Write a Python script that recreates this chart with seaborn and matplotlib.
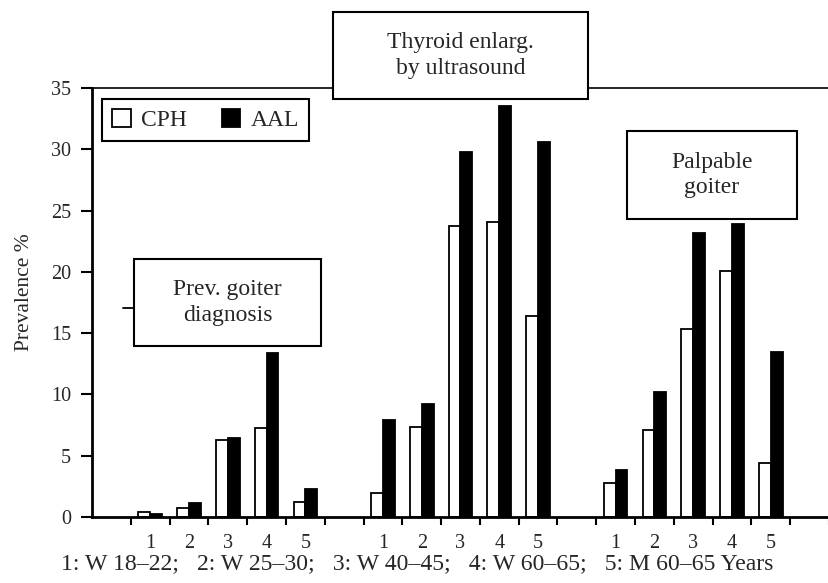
import matplotlib
matplotlib.use("Agg")
import matplotlib.pyplot as plt
from matplotlib.patches import Rectangle
from matplotlib.lines import Line2D
import seaborn as sns
import pandas as pd

# ---- data ----
groups = ["Prev. goiter\ndiagnosis", "Thyroid enlarg.\nby ultrasound", "Palpable\ngoiter"]
subgroups = ["1", "2", "3", "4", "5"]
cph = [0.4, 0.75, 6.3, 7.25, 1.2,
       1.95, 7.35, 23.75, 24.1, 16.4,
       2.8, 7.1, 15.3, 20.1, 4.4]
aal = [0.25, 1.15, 6.45, 13.4, 2.3,
       7.9, 9.2, 29.8, 33.5, 30.6,
       3.8, 10.2, 23.2, 23.9, 13.5]
series = ["CPH", "AAL"]
colors = ["white", "black"]
y_ticks = [0, 5, 10, 15, 20, 25, 30, 35]
footnote = "1: W 18\u201322;   2: W 25\u201330;   3: W 40\u201345;   4: W 60\u201365;   5: M 60\u201365 Years"

# slot layout: empty, 5 bars, empty, 5 bars, empty, 5 bars, empty
order = []
tick_text = []
rows = []
for gi, g in enumerate(groups):
    order.append(f"e{gi}")
    tick_text.append("")
    for si, s in enumerate(subgroups):
        name = f"g{gi}_{s}"
        order.append(name)
        tick_text.append(s)
        rows.append({"slot": name, "site": "CPH", "value": cph[gi * 5 + si]})
        rows.append({"slot": name, "site": "AAL", "value": aal[gi * 5 + si]})
order.append("e_end")
tick_text.append("")
df = pd.DataFrame(rows)

sns.set_style("ticks")
plt.rcParams["font.family"] = ["Liberation Serif", "DejaVu Serif"]

fig = plt.figure(figsize=(8.29, 5.83), dpi=100)
W, H = 829, 583
ax_left, ax_right, ax_bottom, ax_top = 92, 829, 517, 88
ax = fig.add_axes([ax_left / W, 1 - ax_bottom / H, (ax_right - ax_left) / W, (ax_bottom - ax_top) / H])

sns.barplot(data=df, x="slot", y="value", hue="site", order=order, hue_order=series,
            palette=colors, edgecolor="black", linewidth=1.3, width=0.61, ax=ax,
            errorbar=None, saturation=1)

n = len(order)
slot_px = 39.3
ax.set_xlim(-0.5, -0.5 + (ax_right - ax_left) / slot_px)
ax.set_ylim(0, 35)

ax.set_xticks([i + 0.5 for i in range(n)])
ax.set_xticklabels([])
ax.set_xticks(list(range(n)), minor=True)
ax.set_xticklabels(tick_text, minor=True, fontsize=14.5)
ax.tick_params(axis="x", which="major", direction="out", length=6, width=1.5, color="black")
ax.tick_params(axis="x", which="minor", length=0, pad=12)

ax.set_yticks(y_ticks)
ax.set_yticklabels([str(v) for v in y_ticks], fontsize=14.5)
ax.tick_params(axis="y", direction="out", length=8, width=1.5, color="black", pad=7)

ax.set_xlabel("")
ax.set_ylabel("Prevalence %", fontsize=15.5)
ax.yaxis.set_label_coords(-(92 - 34) / (ax_right - ax_left), (517 - 292) / (ax_bottom - ax_top))

for side in ["left", "bottom", "top"]:
    ax.spines[side].set_visible(True)
    ax.spines[side].set_color("black")
ax.spines["left"].set_linewidth(2.0)
ax.spines["bottom"].set_linewidth(2.0)
ax.spines["top"].set_linewidth(1.2)
ax.spines["right"].set_visible(False)

handles, labels = ax.get_legend_handles_labels()
leg = ax.legend(handles, labels, ncol=2, loc="upper left",
                bbox_to_anchor=(10 / (ax_right - ax_left), 1 - 11 / (ax_bottom - ax_top)),
                borderaxespad=0, fontsize=17, frameon=True, fancybox=False,
                handlelength=0.8, handleheight=0.8, handletextpad=0.45,
                columnspacing=1.45, borderpad=0.42, edgecolor="black")
leg.get_frame().set_linewidth(1.5)
leg.get_frame().set_alpha(1)

# annotation boxes (figure pixel coords)
def box(x0, x1, y0, y1, text):
    r = Rectangle((x0 / W, 1 - y1 / H), (x1 - x0) / W, (y1 - y0) / H,
                  transform=fig.transFigure, facecolor="white", edgecolor="black",
                  linewidth=1.5, zorder=5)
    fig.add_artist(r)
    fig.text((x0 + x1) / 2 / W, 1 - (y0 + y1) / 2 / H, text, ha="center", va="center",
             fontsize=17, linespacing=1.3, zorder=6)

box(333, 588, 12, 99, groups[1])
box(627, 797, 131, 219, groups[2])
box(134, 321, 259, 346, groups[0])
fig.add_artist(Line2D([123 / W, 134 / W], [1 - 308 / H, 1 - 308 / H],
                      transform=fig.transFigure, color="black", linewidth=1.3))

fig.text(417 / W, 1 - 564 / H, footnote, ha="center", va="center", fontsize=17.1)

fig.savefig("out.png", dpi=100)
